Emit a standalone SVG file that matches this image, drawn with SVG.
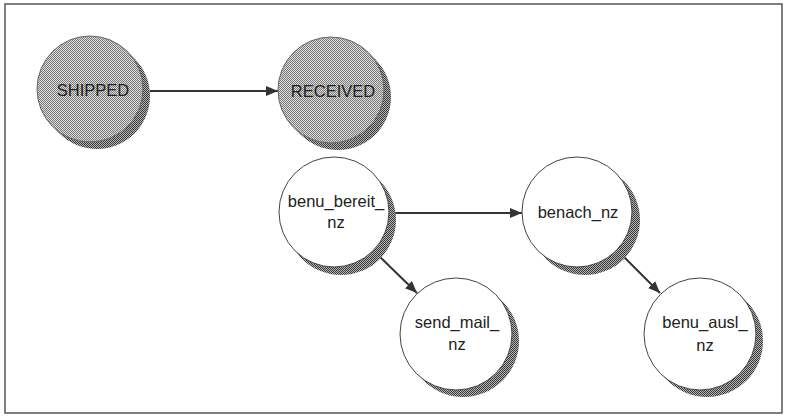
<svg xmlns="http://www.w3.org/2000/svg" width="788" height="420" viewBox="0 0 788 420">
<defs>
<pattern id="dither" width="2" height="2" patternUnits="userSpaceOnUse">
<rect width="2" height="2" fill="#dcdcdc"/>
<rect width="1" height="1" fill="#7a7a7a"/>
<rect x="1" y="1" width="1" height="1" fill="#7a7a7a"/>
</pattern>
<pattern id="ditherDark" width="2" height="2" patternUnits="userSpaceOnUse">
<rect width="2" height="2" fill="#b4b4b4"/>
<rect width="1" height="1" fill="#3a3a3a"/>
<rect x="1" y="1" width="1" height="1" fill="#3a3a3a"/>
</pattern>
<marker id="arr" markerWidth="12" markerHeight="10" refX="12" refY="5" orient="auto" markerUnits="userSpaceOnUse">
<path d="M0,0 L12,5 L0,10 Z" fill="#333"/>
</marker>
</defs>
<style>
.shadow{fill:url(#ditherDark);stroke:none}
.gray{fill:url(#dither);stroke:#666;stroke-width:1}
.white{fill:#fff;stroke:#444;stroke-width:1}
.lbl{font-family:"Liberation Sans",Arial,sans-serif;font-size:16.5px;fill:#222;text-anchor:middle}
.conn{stroke:#333;stroke-width:2;fill:none;marker-end:url(#arr)}
</style>
<rect x="5" y="4" width="777" height="409" fill="#fff" stroke="#555" stroke-width="1.5"/>
<g id="connectors">
<line class="conn" x1="150" y1="91" x2="278" y2="91"/>
<line class="conn" x1="392" y1="213" x2="522" y2="213"/>
<line class="conn" x1="378" y1="255" x2="417" y2="293"/>
<line class="conn" x1="622" y1="255" x2="660" y2="293"/>
</g>
<g id="shipped">
<circle class="shadow" cx="97" cy="96" r="53"/>
<circle class="gray" cx="90" cy="89" r="53"/>
<text class="lbl" x="93" y="96">SHIPPED</text>
</g>
<g id="received">
<circle class="shadow" cx="338" cy="97" r="53"/>
<circle class="gray" cx="331" cy="90" r="53"/>
<text class="lbl" x="333" y="97">RECEIVED</text>
</g>
<g id="benu_bereit_nz">
<circle class="shadow" cx="341" cy="220" r="55"/>
<circle class="white" cx="334" cy="212" r="55"/>
<text class="lbl" x="336" y="207">benu_bereit_</text>
<text class="lbl" x="336" y="228">nz</text>
</g>
<g id="benach_nz">
<circle class="shadow" cx="585" cy="220" r="55"/>
<circle class="white" cx="577" cy="212" r="55"/>
<text class="lbl" x="578" y="218">benach_nz</text>
</g>
<g id="send_mail_nz">
<circle class="shadow" cx="463" cy="341" r="56"/>
<circle class="white" cx="456" cy="334" r="56"/>
<text class="lbl" x="457" y="328">send_mail_</text>
<text class="lbl" x="457" y="350">nz</text>
</g>
<g id="benu_ausl_nz">
<circle class="shadow" cx="707" cy="341" r="56"/>
<circle class="white" cx="700" cy="334" r="56"/>
<text class="lbl" x="705" y="328">benu_ausl_</text>
<text class="lbl" x="705" y="351">nz</text>
</g>
</svg>
